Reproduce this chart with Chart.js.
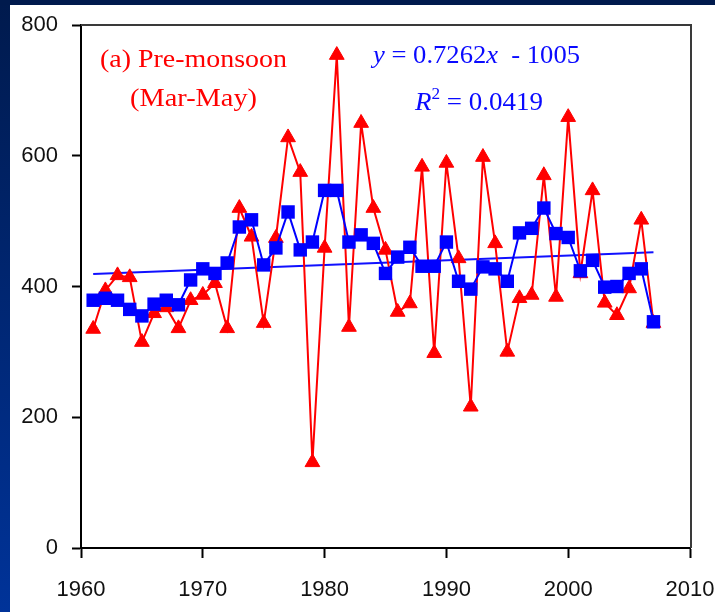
<!DOCTYPE html>
<html>
<head>
<meta charset="utf-8">
<script src="https://cdn.jsdelivr.net/npm/chart.js@4.4.1/dist/chart.umd.min.js"></script>
<style>
  html, body { margin: 0; padding: 0; background: #ffffff; }
  canvas { display: block; }
</style>
</head>
<body>
<canvas id="c" width="715" height="612"></canvas>
<script>
// ---- Data ----
const years = [1961,1962,1963,1964,1965,1966,1967,1968,1969,1970,
               1971,1972,1973,1974,1975,1976,1977,1978,1979,1980,
               1981,1982,1983,1984,1985,1986,1987,1988,1989,1990,
               1991,1992,1993,1994,1995,1996,1997,1998,1999,2000,
               2001,2002,2003,2004,2005,2006,2007];
// Pre-monsoon (Mar-May) seasonal values (red triangles)
const seasonal = [335,394,417,414,315,359,368,336,379,387,
                  405,336,520,476,344,474,628,575,131,459,
                  754,338,650,520,456,361,374,583,298,589,
                  443,216,598,466,300,382,387,570,384,659,
                  420,547,375,356,397,502,344];
// Smoothed values (blue squares)
const smoothed = [379,382,379,365,355,373,379,372,410,427,
                  420,436,491,502,433,459,514,456,468,547,
                  547,468,479,466,420,445,460,431,431,468,
                  408,396,430,427,408,482,489,520,481,475,
                  424,440,399,400,420,427,346];
// Linear trend  y = 0.7262x - 1005 (end points)
const trendYears = [1961, 2007];
const trendValues = [419, 452.5];
const xTicks = [1960, 1970, 1980, 1990, 2000, 2010];
const yTicks = [0, 200, 400, 600, 800];

const pts = (xs, ys) => xs.map((x, i) => ({ x: x, y: ys[i] }));

const bgPlugin = {
  id: 'bg',
  beforeDraw(chart) {
    const ctx = chart.ctx, W = chart.width, H = chart.height;
    ctx.save();
    ctx.fillStyle = '#ffffff';
    ctx.fillRect(0, 0, W, H);
    const g = ctx.createLinearGradient(0, 0, 0, H);
    g.addColorStop(0, '#001a4d');
    g.addColorStop(1, '#003399');
    ctx.fillStyle = g;
    ctx.fillRect(0, 0, 10, H);
    ctx.fillStyle = '#001a4d';
    ctx.fillRect(0, 0, W, 5);
    ctx.restore();
  },
  beforeDatasetsDraw(chart) {
    const ctx = chart.ctx, a = chart.chartArea;
    ctx.save();
    ctx.strokeStyle = '#3a3a3a';
    ctx.lineWidth = 2;
    ctx.beginPath();
    ctx.moveTo(a.left, a.top);
    ctx.lineTo(a.right + 1, a.top);
    ctx.lineTo(a.right + 1, a.bottom);
    ctx.stroke();
    ctx.restore();
  }
};

function drawSegs(ctx, segs, x, baseline, targetW) {
  let total = 0;
  segs.forEach(s => { ctx.font = s.font; total += ctx.measureText(s.t).width; });
  const sx = targetW / total;
  ctx.save();
  ctx.translate(x, baseline);
  ctx.scale(sx, 1);
  let cx = 0;
  segs.forEach(s => {
    ctx.font = s.font;
    ctx.fillStyle = s.color;
    ctx.fillText(s.t, cx, s.dy || 0);
    cx += ctx.measureText(s.t).width;
  });
  ctx.restore();
}

const textPlugin = {
  id: 'texts',
  afterDraw(chart) {
    const ctx = chart.ctx;
    ctx.save();
    ctx.textBaseline = 'alphabetic';
    ctx.textAlign = 'left';
    const red = '#ff0000', blue = '#0a0aff';
    const f = '25px "Liberation Serif"', fi = 'italic 25px "Liberation Serif"';
    drawSegs(ctx, [{ t: '(a) Pre-monsoon', font: f, color: red }], 100, 67, 187);
    drawSegs(ctx, [{ t: '(Mar-May)', font: f, color: red }], 130, 106, 127);
    drawSegs(ctx, [
      { t: 'y', font: fi, color: blue },
      { t: ' = 0.7262', font: f, color: blue },
      { t: 'x', font: fi, color: blue },
      { t: '  - 1005', font: f, color: blue }
    ], 373, 63, 207);
    drawSegs(ctx, [
      { t: 'R', font: fi, color: blue },
      { t: '2', font: '16px "Liberation Serif"', color: blue, dy: -11 },
      { t: ' = 0.0419', font: f, color: blue }
    ], 415, 110, 128);
    ctx.restore();
  }
};

function noPad(s) {
  s.paddingLeft = 0; s.paddingRight = 0; s.paddingTop = 0; s.paddingBottom = 0;
}

new Chart(document.getElementById('c'), {
  type: 'scatter',
  data: {
    datasets: [
      {
        label: 'Trend',
        data: pts(trendYears, trendValues),
        showLine: true,
        borderColor: '#1010ff',
        borderWidth: 2,
        pointRadius: 0,
        order: 3
      },
      {
        label: 'Pre-monsoon',
        data: pts(years, seasonal),
        showLine: true,
        borderColor: '#ff0000',
        backgroundColor: '#ff0000',
        borderWidth: 2,
        pointStyle: 'triangle',
        pointRadius: 8.5,
        pointBorderWidth: 1,
        order: 2
      },
      {
        label: 'Smoothed',
        data: pts(years, smoothed),
        showLine: true,
        borderColor: '#0000ff',
        backgroundColor: '#0000ff',
        borderWidth: 2,
        pointStyle: 'rect',
        pointRadius: 9.5,
        pointBorderWidth: 0,
        order: 1
      }
    ]
  },
  options: {
    responsive: false,
    animation: false,
    devicePixelRatio: 1,
    layout: { autoPadding: false, padding: { left: 0, top: 25, right: 25, bottom: 16 } },
    plugins: { legend: { display: false }, tooltip: { enabled: false } },
    scales: {
      x: {
        type: 'linear',
        min: 1960, max: 2010,
        afterBuildTicks(s) { s.ticks = xTicks.map(v => ({ value: v })); },
        afterFit(s) { s.height = 48; noPad(s); },
        ticks: {
          callback: v => String(v),
          color: '#111',
          font: { family: '"Liberation Sans"', size: 22 },
          padding: 19,
          maxRotation: 0,
          autoSkip: false
        },
        grid: { drawOnChartArea: false, drawTicks: true, tickLength: 10, tickColor: '#000', tickWidth: 2 },
        border: { display: true, color: '#000', width: 2 }
      },
      y: {
        min: 0, max: 800,
        afterBuildTicks(s) { s.ticks = yTicks.map(v => ({ value: v })); },
        afterFit(s) { s.width = 81; noPad(s); },
        ticks: {
          color: '#111',
          font: { family: '"Liberation Sans"', size: 22 },
          padding: 14
        },
        grid: { drawOnChartArea: false, drawTicks: true, tickLength: 9, tickColor: '#000', tickWidth: 2 },
        border: { display: true, color: '#000', width: 2 }
      }
    }
  },
  plugins: [bgPlugin, textPlugin]
});
</script>
</body>
</html>
